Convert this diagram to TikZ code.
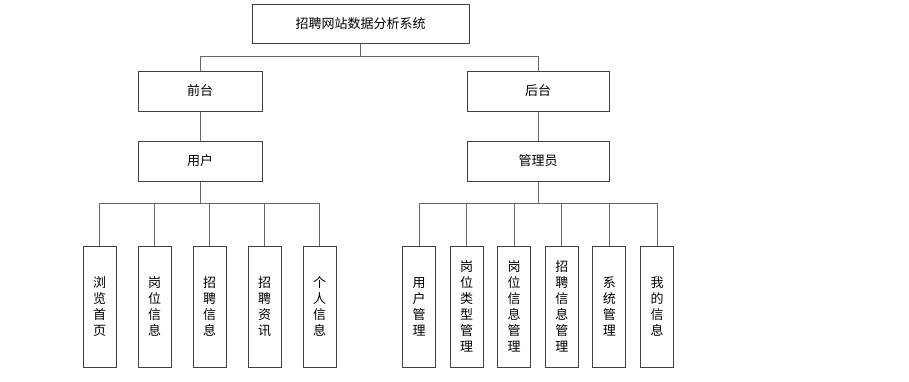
\documentclass[tikz,border=0pt]{standalone}
\usepackage{fontspec}
\newfontfamily\cjk{Noto Sans CJK SC}
\usetikzlibrary{positioning}

\begin{document}
\begin{tikzpicture}[
    x=1pt, y=-1pt,
    node distance=70pt,
    box/.style={rectangle, draw=black!75, line width=1pt, fill=white, minimum height=40pt, align=center, inner sep=0pt, font=\cjk\fontsize{13}{16}\selectfont},
    leaf/.style={box, minimum width=33pt, minimum height=121pt},
    line/.style={draw=black!60, line width=1pt},
]
    \useasboundingbox (0,0) rectangle (909,381);

    \node[box, minimum width=217pt, minimum height=39.5pt] at (360.5,23.75) (system) {招聘网站数据分析系统};
    \node[box, minimum width=124pt] at (200,91) (front) {前台};
    \node[box, minimum width=142pt] at (538,91) (back) {后台};
    \node[box, minimum width=124pt, below of=front] (user) {用户};
    \node[box, minimum width=142pt, below of=back] (admin) {管理员};

    % front side
    \node[leaf] at (99.5,306.5) (browse) {浏\\览\\首\\页};
    \node[leaf, right of=browse, node distance=55pt] (jobinfo) {岗\\位\\信\\息};
    \node[leaf, right of=jobinfo, node distance=55pt] (hireinfo) {招\\聘\\信\\息};
    \node[leaf, right of=hireinfo, node distance=55pt] (news) {招\\聘\\资\\讯};
    \node[leaf, right of=news, node distance=55pt] (mine) {个\\人\\信\\息};

    % back side
    \node[leaf] at (419,306.5) (usermgr) {用\\户\\管\\理};
    \node[leaf, right of=usermgr, node distance=47.6pt] (typemgr) {岗\\位\\类\\型\\管\\理};
    \node[leaf, right of=typemgr, node distance=47.6pt] (jobmgr) {岗\\位\\信\\息\\管\\理};
    \node[leaf, right of=jobmgr, node distance=47.6pt] (hiremgr) {招\\聘\\信\\息\\管\\理};
    \node[leaf, right of=hiremgr, node distance=47.6pt] (sysmgr) {系\\统\\管\\理};
    \node[leaf, right of=sysmgr, node distance=47.6pt] (myinfo) {我\\的\\信\\息};

    \draw[line] (system.south) -- ++(0,12.5) -| (front.north);
    \draw[line] (system.south) -- ++(0,12.5) -| (back.north);
    \draw[line] (front) -- (user);
    \draw[line] (back) -- (admin);

    \foreach \leafname in {browse, jobinfo, hireinfo, news, mine}
        \draw[line] (user.south) -- ++(0,22) -| (\leafname.north);
    \foreach \leafname in {usermgr, typemgr, jobmgr, hiremgr, sysmgr, myinfo}
        \draw[line] (admin.south) -- ++(0,22) -| (\leafname.north);
\end{tikzpicture}
\end{document}
